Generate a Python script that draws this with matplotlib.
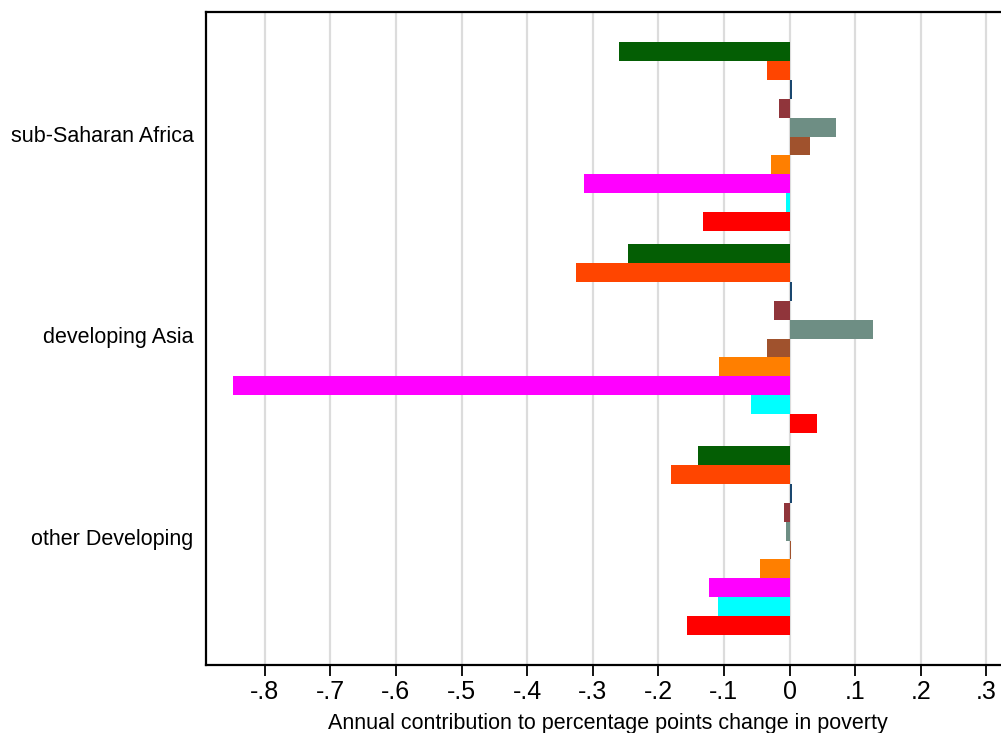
import matplotlib
matplotlib.use("Agg")
import matplotlib.pyplot as plt
import matplotlib.transforms as mtrans

plt.rcParams['font.family'] = ['Liberation Sans', 'DejaVu Sans']

# regions (top to bottom)
regions = ['sub-Saharan Africa', 'developing Asia', 'other Developing']

# bar colours, in drawing order inside each region
bar_colors = ['#045e04', '#ff4500', '#1a476f', '#90353b', '#6e8e84',
              '#a0522d', '#ff7f00', '#ff00ff', '#00ffff', '#ff0000']

# values, one list per region
ssa = [-0.260, -0.034, 0.004, -0.016, 0.071, 0.031, -0.028, -0.313, -0.006, -0.132]
asia = [-0.246, -0.325, 0.004, -0.024, 0.127, -0.034, -0.107, -0.849, -0.059, 0.042]
other = [-0.140, -0.181, 0.004, -0.009, -0.006, 0.003, -0.045, -0.123, -0.109, -0.156]
values = [ssa, asia, other]

xticks = [-0.8, -0.7, -0.6, -0.5, -0.4, -0.3, -0.2, -0.1, 0, 0.1, 0.2, 0.3]
xticklabels = ['-.8', '-.7', '-.6', '-.5', '-.4', '-.3', '-.2', '-.1', '0', '.1', '.2', '.3']

fig = plt.figure(figsize=(10.01, 7.33), dpi=100)
# axes run a bit past the right edge, like the cropped original
ax = fig.add_axes([206 / 1001, 68 / 733, 804 / 1001, 653 / 733])

bar_h = 18.9
group_pitch = 202
top_gap = 30

for g, vals in enumerate(values):
    for i, v in enumerate(vals):
        y = top_gap + g * group_pitch + i * bar_h + bar_h / 2
        ax.barh(y, v, height=bar_h, color=bar_colors[i], linewidth=0, zorder=3)

centers = [top_gap + g * group_pitch + 5 * bar_h for g in range(len(regions))]
ax.set_yticks(centers)
ax.set_yticklabels(regions, fontsize=15.5)
ax.tick_params(axis='y', length=0, pad=9)
# labels sit a touch above the group centre in the original
shift = mtrans.ScaledTranslation(0, 3 / 100, fig.dpi_scale_trans)
for lab in ax.get_yticklabels():
    lab.set_transform(lab.get_transform() + shift)
ax.set_ylim(653, 0)

ax.set_xlim((206 - 789.5) / 656, (1010 - 789.5) / 656)
ax.set_xticks(xticks)
ax.set_xticklabels(xticklabels, fontsize=18)
ax.tick_params(axis='x', length=8, width=1.3, pad=3, color='black')
ax.grid(axis='x', color='#dcdcdc', linewidth=1.6, zorder=0)
ax.set_axisbelow(True)

ax.set_xlabel('Annual contribution to percentage points change in poverty',
              fontsize=15.5, labelpad=6)

for side in ['left', 'bottom', 'top']:
    ax.spines[side].set_linewidth(1.6)
    ax.spines[side].set_color('black')
ax.spines['right'].set_visible(False)

fig.savefig('out.png', dpi=100)
